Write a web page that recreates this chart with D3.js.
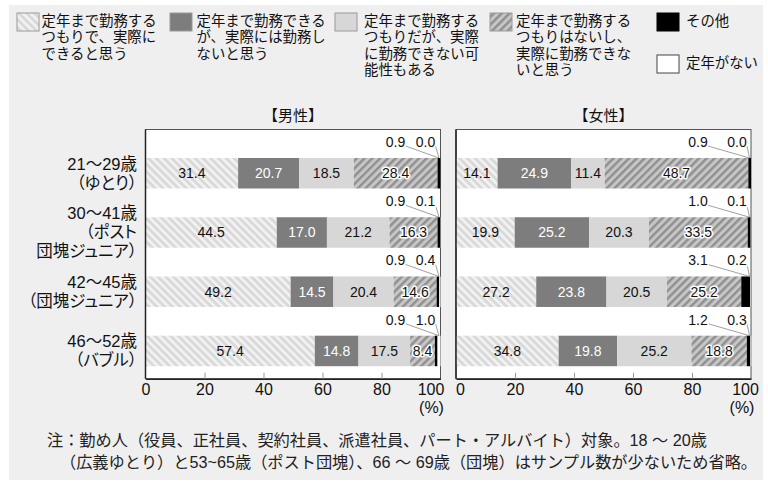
<!DOCTYPE html>
<html><head><meta charset="utf-8">
<script src="https://cdn.jsdelivr.net/npm/d3@7"></script>
<style>
html,body{margin:0;padding:0;background:#fff;}
svg{display:block;font-family:"Liberation Sans","Noto Sans CJK JP",sans-serif;}
.palt{font-feature-settings:"palt";}
</style></head><body>
<svg id="chart" width="768" height="486"></svg>
<script>
// ---------- DATA ----------
const categories = ["21～29歳（ゆとり）", "30～41歳（ポスト団塊ジュニア）", "42～45歳（団塊ジュニア）", "46～52歳（バブル）"];
const categoryLines = [["21～29歳", "（ゆとり）"], ["30～41歳", "（ポスト", "団塊ジュニア）"], ["42～45歳", "（団塊ジュニア）"], ["46～52歳", "（バブル）"]];
const seriesKeys = ["canDo", "canButWont", "mayNot", "noIntent", "other", "noRetire"];
const seriesLegendLines = [
  ["定年まで勤務する", "つもりで、実際に", "できると思う"],
  ["定年まで勤務できる", "が、実際には勤務し", "ないと思う"],
  ["定年まで勤務する", "つもりだが、実際", "に勤務できない可", "能性もある"],
  ["定年まで勤務する", "つもりはないし、", "実際に勤務できな", "いと思う"],
  ["その他"],
  ["定年がない"]
];
const panelTitles = ["【男性】", "【女性】"];

const maleCanDo      = [31.4, 44.5, 49.2, 57.4];
const maleCanButWont = [20.7, 17.0, 14.5, 14.8];
const maleMayNot     = [18.5, 21.2, 20.4, 17.5];
const maleNoIntent   = [28.4, 16.3, 14.6, 8.4];
const maleOther      = [0.9, 0.9, 0.9, 0.9];
const maleNoRetire   = [0.0, 0.1, 0.4, 1.0];

const femaleCanDo      = [14.1, 19.9, 27.2, 34.8];
const femaleCanButWont = [24.9, 25.2, 23.8, 19.8];
const femaleMayNot     = [11.4, 20.3, 20.5, 25.2];
const femaleNoIntent   = [48.7, 33.5, 25.2, 18.8];
const femaleOther      = [0.9, 1.0, 3.1, 1.2];
const femaleNoRetire   = [0.0, 0.1, 0.2, 0.3];

const tickValues = [0, 20, 40, 60, 80, 100];
const unitLabel = "(%)";
const noteLines = [
  "注：勤め人（役員、正社員、契約社員、派遣社員、パート・アルバイト）対象。18 ～ 20歳",
  "（広義ゆとり）と53~65歳（ポスト団塊）、66 ～ 69歳（団塊）はサンプル数が少ないため省略。"
];

// ---------- BUILD TABLES ----------
function buildRows(arrs) {
  return categories.map((c, i) => {
    const r = { cat: c, idx: i };
    seriesKeys.forEach((k, j) => r[k] = arrs[j][i]);
    return r;
  });
}
const maleRows = buildRows([maleCanDo, maleCanButWont, maleMayNot, maleNoIntent, maleOther, maleNoRetire]);
const femaleRows = buildRows([femaleCanDo, femaleCanButWont, femaleMayNot, femaleNoIntent, femaleOther, femaleNoRetire]);

// ---------- STYLE ----------
const fills = ["url(#hatchA)", "#7d7d7d", "#d7d7d7", "url(#hatchB)", "#000", "#fff"];
const labelColors = ["#111", "#fff", "#111", "#111"];

const svg = d3.select("#chart");
svg.append("rect").attr("x", 9).attr("y", 5).attr("width", 754).attr("height", 475).attr("fill", "#efefef");

const defs = svg.append("defs");
function hatch(id, angle, base, stripe, period, sw) {
  const p = defs.append("pattern").attr("id", id).attr("patternUnits", "userSpaceOnUse")
    .attr("width", period).attr("height", period).attr("patternTransform", `rotate(${angle})`);
  p.append("rect").attr("width", period).attr("height", period).attr("fill", base);
  p.append("rect").attr("width", sw).attr("height", period).attr("fill", stripe);
}
hatch("hatchA", -45, "#d9d9d9", "#f3f3f3", 5.5, 2.6);
hatch("hatchB", 45, "#c6c6c6", "#8f8f8f", 5.5, 2.4);

// ---------- LEGEND ----------
const legendPos = [[17, 41.5], [170, 196.5], [335, 364], [490, 516], [657, 686], [657, 686]];
const legendY = [13, 13, 13, 13, 13, 55];
const legend = svg.append("g").style("font-size", "14.4px").attr("fill", "#111");
seriesKeys.forEach((k, i) => {
  const [sx, tx] = legendPos[i];
  const sy = legendY[i];
  legend.append("rect").attr("x", sx).attr("y", sy).attr("width", 22).attr("height", 18)
    .attr("fill", fills[i]).attr("stroke", i === 4 ? "#000" : (i === 5 ? "#444" : "#9a9a9a")).attr("stroke-width", 1);
  seriesLegendLines[i].forEach((ln, j) => {
    legend.append("text").attr("x", tx).attr("y", sy + 8 + j * 16.4)
      .attr("dominant-baseline", "central").text(ln);
  });
});

// ---------- PANELS ----------
const plotTop = 129.5, plotBottom = 378.7;
const y = d3.scaleBand().domain(d3.range(categories.length)).range([158, 366.2]).paddingInner(0.485).paddingOuter(0);
const stack = d3.stack().keys(seriesKeys);

const panels = [
  { rows: maleRows, x0: 145.5, x1: 440.5, smallDx: [-45, -15] },
  { rows: femaleRows, x0: 456, x1: 751, smallDx: [-53, -14] }
];

panels.forEach((pn, pi) => {
  const x = d3.scaleLinear().domain([0, 100]).range([pn.x0, pn.x1]);
  const g = svg.append("g");
  g.append("rect").attr("x", pn.x0).attr("y", plotTop).attr("width", pn.x1 - pn.x0).attr("height", plotBottom - plotTop)
    .attr("fill", "#fff").attr("stroke", "#555").attr("stroke-width", 1);

  const series = stack(pn.rows);
  series.forEach((s, si) => {
    g.append("g").selectAll("rect").data(s).join("rect")
      .attr("x", d => x(d[0])).attr("width", d => Math.max(0, x(d[1]) - x(d[0])))
      .attr("y", (d, i) => y(i)).attr("height", y.bandwidth())
      .attr("fill", fills[si]);
  });

  // segment labels for main series
  series.slice(0, 4).forEach((s, si) => {
    const t = g.append("g").selectAll("text").data(s).join("text")
      .attr("x", d => (x(d[0]) + x(d[1])) / 2)
      .attr("y", (d, i) => y(i) + y.bandwidth() / 2)
      .attr("text-anchor", "middle").attr("dominant-baseline", "central")
      .style("font-size", "14px").attr("fill", labelColors[si])
      .text(d => d.data[seriesKeys[si]].toFixed(1));
    if (si === 3) t.attr("stroke", "#fff").attr("stroke-width", 3).attr("paint-order", "stroke").attr("stroke-linejoin", "round");
  });

  // small value labels (その他, 定年がない) with leader lines
  [4, 5].forEach((si, k) => {
    const s = series[si];
    const lx = x(100) + pn.smallDx[k];
    s.forEach((d, i) => {
      const ly = y(i) - 16;
      g.append("line").attr("x1", lx + 10).attr("y1", ly + 4)
        .attr("x2", x(100) - 1.5).attr("y2", y(i))
        .attr("stroke", "#777").attr("stroke-width", 0.7);
      g.append("text").attr("x", lx).attr("y", ly).attr("text-anchor", "middle").attr("dominant-baseline", "central")
        .style("font-size", "14px").attr("fill", "#111")
        .attr("stroke", "#fff").attr("stroke-width", 3).attr("paint-order", "stroke")
        .text(d.data[seriesKeys[si]].toFixed(1));
    });
  });

  // axis
  const axis = d3.axisBottom(x).tickValues(tickValues).tickSizeInner(-6).tickSizeOuter(0).tickPadding(5).tickFormat(d3.format("d"));
  const ag = g.append("g").attr("transform", `translate(0,${plotBottom})`).call(axis);
  ag.select(".domain").attr("stroke", "#222").attr("stroke-width", 1.5);
  ag.selectAll(".tick line").attr("stroke", "#999");
  ag.selectAll(".tick text").style("font-size", "16px").attr("fill", "#111")
    .style("font-family", "'Liberation Sans',sans-serif")
    .attr("dx", d => d === 100 ? (pi === 0 ? -10 : -6) : (pi === 1 && d === 0 ? 4 : 0));
  ag.selectAll(".tick").filter(d => d === 0 || d === 100).select("line").remove();
  g.append("line").attr("x1", pn.x0).attr("x2", pn.x0).attr("y1", plotTop).attr("y2", plotBottom)
    .attr("stroke", "#222").attr("stroke-width", 1.5);
  g.append("text").attr("x", x(100) - 9).attr("y", plotBottom + 29)
    .attr("text-anchor", "middle").attr("dominant-baseline", "central")
    .style("font-size", "16px").attr("fill", "#111").text(unitLabel);

  // panel title
  g.append("text").attr("x", (pn.x0 + pn.x1) / 2).attr("y", 115).attr("text-anchor", "middle")
    .attr("dominant-baseline", "central").style("font-size", "15px").attr("fill", "#111").text(panelTitles[pi]);
});

// ---------- CATEGORY LABELS ----------
const catG = svg.append("g").attr("class", "palt").style("font-size", "16.5px").attr("fill", "#111");
categoryLines.forEach((lines, i) => {
  const cy = y(i) + y.bandwidth() / 2;
  const n = lines.length;
  lines.forEach((ln, j) => {
    catG.append("text").attr("x", 137).attr("y", cy + (j - (n - 1) / 2) * 19)
      .attr("text-anchor", "end").attr("dominant-baseline", "central").text(ln);
  });
});

// ---------- NOTE ----------
const noteG = svg.append("g").style("font-size", "16.2px").attr("fill", "#222");
const noteX = [47, 60];
noteLines.forEach((ln, j) => {
  noteG.append("text").attr("x", noteX[j]).attr("y", 440 + j * 21.5)
    .attr("dominant-baseline", "central").text(ln);
});
</script>
</body></html>
